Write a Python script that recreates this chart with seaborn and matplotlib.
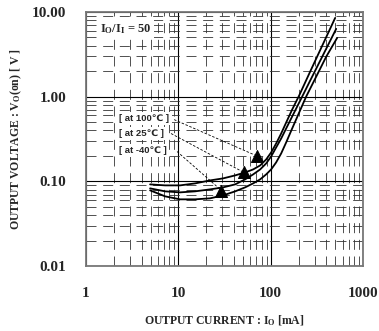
import numpy as np
import pandas as pd
import matplotlib
matplotlib.use("Agg")
import matplotlib.pyplot as plt
import seaborn as sns

# curve data (I in mA, V in volts)
i_100 = [4.94, 7.18, 10.43, 15.17, 22.05, 30.5, 41.2, 52.8, 64.5, 76.8,
         89.2, 101, 114.4, 129.7, 146.8, 170.5, 203, 267, 360.6, 498.7]
v_100 = [0.0922, 0.0897, 0.0897, 0.0947, 0.1027, 0.1085, 0.1177, 0.1276, 0.1384, 0.1543,
         0.1815, 0.2194, 0.280, 0.367, 0.494, 0.703, 1.03, 1.97, 3.98, 8.5]

i_25 = [4.94, 7.18, 10.43, 15.17, 22.05, 30.5, 41.2, 52.8, 64.5, 76.8,
        89.2, 101, 114.4, 129.7, 146.8, 170.5, 218.9, 267, 360.6, 511.2]
v_25 = [0.0827, 0.0763, 0.0742, 0.0763, 0.0805, 0.0850, 0.0922, 0.1056, 0.1209, 0.1384,
        0.1628, 0.1968, 0.2512, 0.3205, 0.4202, 0.5817, 1.0, 1.542, 2.955, 6.31]

i_m40 = [4.94, 7.18, 10.43, 15.17, 22.05, 30.5, 41.2, 52.8, 64.5, 76.8,
         89.2, 101, 114.4, 129.7, 146.8, 170.5, 203, 241.8, 310.4, 398.4, 524.1]
v_m40 = [0.0784, 0.0666, 0.0614, 0.0614, 0.0631, 0.0684, 0.0763, 0.0850, 0.0947, 0.1056,
         0.1209, 0.1384, 0.1674, 0.2135, 0.2876, 0.4202, 0.6484, 1.0, 1.719, 2.955, 4.944]

labels = ["[ at 100\u2103 ]", "[ at 25\u2103 ]", "[ at -40\u2103 ]"]
label_i = [2.3, 2.3, 2.3]
label_v = [0.551, 0.367, 0.232]
# leader lines: start near label, end at arrow head on the curve
lead_i0 = [8.98, 8.33, 9.68]
lead_v0 = [0.536, 0.367, 0.225]
head_i = [70.5, 50.9, 29.3]
head_v = [0.20, 0.128, 0.078]

xticks = [1, 10, 100, 1000]
xticklabels = ["1", "10", "100", "1000"]
yticks = [0.01, 0.1, 1, 10]
yticklabels = ["0.01", "0.10", "1.00", "10.00"]

df = pd.concat([
    pd.DataFrame({"I": i_100, "V": v_100, "temp": "100"}),
    pd.DataFrame({"I": i_25, "V": v_25, "temp": "25"}),
    pd.DataFrame({"I": i_m40, "V": v_m40, "temp": "-40"}),
], ignore_index=True)

sns.set_style("white")
plt.rcParams["font.family"] = ["Liberation Serif", "DejaVu Serif"]
plt.rcParams["mathtext.fontset"] = "custom"
plt.rcParams["mathtext.rm"] = "Liberation Serif:bold"
plt.rcParams["mathtext.it"] = "Liberation Serif:bold"
plt.rcParams["mathtext.bf"] = "Liberation Serif:bold"

fig = plt.figure(figsize=(3.79, 3.31), dpi=100)
ax = fig.add_axes([0.227, 0.196, 0.731, 0.768])

ax.set_xscale("log")
ax.set_yscale("log")
ax.set_xlim(1, 1000)
ax.set_ylim(0.01, 10)

# grid: solid at decades, dashed minor
ax.grid(True, which="major", color="black", lw=0.8, ls="-", zorder=0)
ax.grid(True, which="minor", color="#333333", lw=0.6, ls=(0, (12, 8)), zorder=0)
ax.set_axisbelow(True)

sns.lineplot(data=df, x="I", y="V", hue="temp", palette=["black"] * 3,
             sort=False, estimator=None, lw=1.3, legend=False, ax=ax, zorder=3)

# leaders + arrow heads
for k in range(3):
    ax.plot([lead_i0[k], head_i[k]], [lead_v0[k], head_v[k]], color="black",
            lw=0.6, ls=(0, (3, 2)), zorder=4)
sns.scatterplot(x=head_i, y=head_v, marker="^", s=75, color="black",
                edgecolor="black", ax=ax, zorder=5)

for k in range(3):
    ax.text(label_i[k], label_v[k], labels[k], fontsize=6.8, fontweight="bold",
            family=["Liberation Sans", "DejaVu Sans"], va="center", ha="left",
            bbox=dict(facecolor="white", edgecolor="none", pad=1.5), zorder=6)

ax.text(1.42, 6.3, r"$I_O/I_I$ = 50", fontsize=9, fontweight="bold",
        va="center", ha="left",
        bbox=dict(facecolor="white", edgecolor="none", pad=1.5), zorder=6)

ax.set_xticks(xticks)
ax.set_xticklabels(xticklabels, fontsize=11, fontweight="bold")
ax.set_yticks(yticks)
ax.set_yticklabels(yticklabels, fontsize=11, fontweight="bold")
ax.tick_params(which="both", length=0)
ax.tick_params(axis="x", pad=15)
ax.tick_params(axis="y", pad=14)

ax.set_xlabel("OUTPUT CURRENT : $I_O$ [mA]", fontsize=8.5, fontweight="bold",
              labelpad=10)
ax.set_ylabel("OUTPUT VOLTAGE : $V_O$(on) [ V ]", fontsize=8.5, fontweight="bold",
              labelpad=6)

for s in ax.spines.values():
    s.set_color("#777777")
    s.set_linewidth(1.3)

fig.savefig("out.png", dpi=100)
